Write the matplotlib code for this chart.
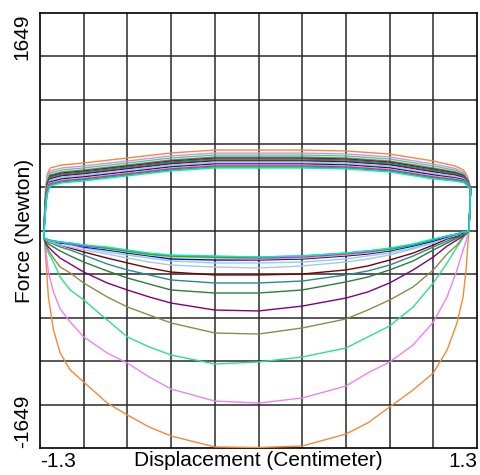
import matplotlib
matplotlib.use("Agg")
import matplotlib.pyplot as plt
import numpy as np

up_x = [-1.276, -1.27, -1.258, -1.24, -1.17, -1.04, -0.78, -0.52, -0.26, 0.0,
        0.26, 0.52, 0.78, 1.04, 1.17, 1.22, 1.245, 1.262]
low_x = [1.252, 1.246, 1.235, 1.217, 1.181, 1.122, 1.04, 0.92, 0.78, 0.65, 0.52, 0.26, 0.0,
         -0.26, -0.52, -0.65, -0.78, -0.90, -1.04, -1.12, -1.18, -1.22, -1.25, -1.264, -1.276]

# force (N), upper branch left -> right, lower branch right -> left
up_orange = [-11, 269, 421, 474, 497, 512, 550, 588, 610, 610, 610, 603, 580, 527, 489, 459, 406, 322]
low_orange = [0, -95, -299, -504, -701, -906, -1080, -1209, -1338, -1459, -1543, -1634, -1645,
              -1641, -1558, -1490, -1399, -1308, -1149, -1058, -929, -754, -504, -246, -34]

up_violet = [-11, 242, 396, 451, 474, 489, 527, 565, 587, 587, 587, 580, 557, 504, 470, 443, 395, 320]
low_violet = [-4, -19, -80, -148, -299, -504, -694, -868, -997, -1080, -1179, -1270, -1308,
              -1293, -1202, -1111, -1005, -929, -807, -694, -595, -466, -315, -163, -42]

up_spring = [-11, 224, 379, 436, 459, 474, 512, 550, 572, 572, 572, 565, 542, 489, 457, 432, 387, 318]
low_spring = [-4, -11, -27, -57, -125, -246, -398, -580, -724, -807, -891, -959, -997,
              -1012, -944, -883, -807, -679, -527, -451, -353, -239, -171, -133, -57]

up_olive = [-11, 205, 363, 421, 444, 459, 497, 535, 557, 557, 557, 550, 527, 474, 444, 422, 379, 316]
low_olive = [-4, -11, -27, -49, -110, -178, -299, -428, -527, -603, -671, -739, -785,
             -777, -701, -641, -580, -504, -398, -322, -277, -209, -148, -110, -57]

up_purple = [-11, 196, 355, 413, 436, 451, 489, 527, 549, 549, 549, 542, 519, 466, 438, 417, 376, 315]
low_purple = [-4, -11, -19, -42, -72, -118, -201, -299, -398, -466, -512, -573, -610,
              -603, -550, -504, -451, -398, -315, -254, -209, -163, -125, -102, -57]

up_dkgreen = [-11, 187, 346, 406, 429, 444, 482, 520, 542, 542, 542, 535, 512, 459, 431, 411, 372, 314]
low_dkgreen = [-4, -11, -19, -34, -57, -95, -148, -231, -299, -353, -390, -451, -474,
               -474, -451, -406, -360, -307, -239, -193, -155, -125, -102, -87, -57]

up_teal = [-11, 178, 338, 398, 421, 436, 474, 512, 534, 534, 534, 527, 504, 451, 425, 406, 368, 313]
low_teal = [-4, -11, -19, -27, -49, -80, -125, -193, -262, -307, -337, -383, -398,
            -398, -375, -337, -299, -254, -186, -148, -125, -102, -87, -72, -57]

up_maroon = [-11, 169, 330, 391, 414, 429, 467, 505, 527, 527, 527, 520, 497, 444, 419, 401, 364, 312]
low_maroon = [-4, -4, -11, -19, -42, -64, -110, -171, -224, -269, -299, -330, -337,
              -337, -315, -284, -246, -209, -163, -133, -110, -95, -80, -72, -57]

up_steel = [-11, 160, 321, 383, 406, 421, 459, 497, 519, 519, 519, 512, 489, 436, 412, 395, 360, 311]
low_steel = [-4, -4, -11, -19, -34, -57, -95, -140, -186, -216, -239, -269, -284,
             -277, -262, -239, -209, -178, -148, -125, -110, -95, -80, -72, -57]

up_lblue = [-11, 151, 313, 375, 398, 413, 451, 489, 511, 511, 511, 504, 481, 428, 406, 390, 357, 310]
low_lblue = [-4, -4, -11, -19, -27, -49, -87, -133, -171, -193, -216, -239, -246,
             -246, -231, -209, -186, -163, -133, -110, -95, -87, -72, -64, -57]

up_blue = [-11, 142, 305, 368, 391, 406, 444, 482, 504, 504, 504, 497, 474, 421, 399, 385, 353, 309]
low_blue = [-4, -4, -11, -19, -27, -49, -80, -118, -155, -178, -193, -216, -224,
            -224, -216, -193, -171, -148, -125, -102, -95, -80, -72, -64, -57]

up_yellow = [-11, 132, 296, 360, 383, 398, 436, 474, 496, 496, 496, 489, 466, 413, 393, 379, 349, 308]
low_yellow = [-4, -4, -11, -11, -27, -42, -72, -110, -148, -171, -186, -209, -216,
              -209, -201, -186, -163, -140, -118, -102, -87, -80, -72, -64, -57]

up_magenta = [-11, 123, 288, 353, 376, 391, 429, 467, 489, 489, 489, 482, 459, 406, 387, 374, 345, 307]
low_magenta = [-4, -4, -11, -11, -27, -42, -72, -110, -140, -163, -178, -201, -209,
               -201, -193, -178, -155, -133, -118, -102, -87, -80, -72, -64, -57]

up_green = [-11, 114, 280, 345, 368, 383, 421, 459, 481, 481, 481, 474, 451, 398, 380, 369, 341, 306]
low_green = [-4, -4, -11, -11, -27, -42, -72, -110, -140, -155, -171, -193, -201,
             -201, -193, -178, -155, -133, -110, -95, -87, -80, -72, -64, -57]

up_cyan = [-11, 105, 272, 338, 361, 376, 414, 452, 474, 474, 474, 467, 444, 391, 374, 364, 338, 305]
low_cyan = [-4, -4, -11, -11, -27, -42, -64, -102, -133, -155, -171, -193, -201,
            -193, -186, -171, -148, -125, -110, -95, -87, -80, -72, -64, -57]

loops = [
    (up_orange, low_orange, "#f28a3a"),
    (up_violet, low_violet, "#ee82ee"),
    (up_spring, low_spring, "#2ee08a"),
    (up_olive, low_olive, "#8b8b4b"),
    (up_purple, low_purple, "#800080"),
    (up_dkgreen, low_dkgreen, "#2a7d3a"),
    (up_teal, low_teal, "#2a8a8a"),
    (up_maroon, low_maroon, "#7a0000"),
    (up_steel, low_steel, "#b0c4de"),
    (up_lblue, low_lblue, "#87cefa"),
    (up_blue, low_blue, "#0000ff"),
    (up_yellow, low_yellow, "#e6c800"),
    (up_magenta, low_magenta, "#ff00ff"),
    (up_green, low_green, "#00cc00"),
    (up_cyan, low_cyan, "#00e5e5"),
]

x_lim = 1.3
f_lim = 1649

plt.rcParams["font.family"] = ["Liberation Sans", "DejaVu Sans"]

fig = plt.figure(figsize=(4.8, 4.75), dpi=100)
ax = fig.add_axes([40 / 480, 1 - 448 / 475, 437 / 480, 435 / 475])

for up, low, col in loops:
    xs = up_x + low_x + [up_x[0]]
    ys = up + low + [up[0]]
    ax.plot(xs, ys, color=col, lw=1.0, zorder=3)

ax.set_xlim(-x_lim, x_lim)
ax.set_ylim(-f_lim, f_lim)

# 10 x 10 grid
ax.set_xticks(np.linspace(-x_lim, x_lim, 11), minor=True)
ax.set_yticks(np.linspace(-f_lim, f_lim, 11), minor=True)
ax.grid(which="minor", color="#2a2a2a", lw=1.1)
ax.set_axisbelow(True)
ax.tick_params(which="both", length=0)

ax.set_xticks([-x_lim, x_lim])
ax.set_xticklabels(["-1.3", "1.3"], fontsize=15)
ax.tick_params(axis="x", pad=3)
xl = ax.get_xticklabels()
xl[0].set_ha("left")
xl[1].set_ha("right")

ax.set_yticks([-f_lim, f_lim])
ax.set_yticklabels(["-1649", "1649"], fontsize=15, rotation=90)
ax.tick_params(axis="y", pad=6)
yl = ax.get_yticklabels()
yl[0].set_va("bottom")
yl[1].set_va("top")

ax.set_xlabel("Displacement (Centimeter)", fontsize=15)
ax.xaxis.set_label_coords(0.5, -0.006)
ax.text(-0.035, 0.5, "Force (Newton)", rotation=90, ha="center", va="center",
        fontsize=15, transform=ax.transAxes)

for s in ax.spines.values():
    s.set_color("black")
    s.set_linewidth(1.2)

fig.savefig("out.png", dpi=100)
